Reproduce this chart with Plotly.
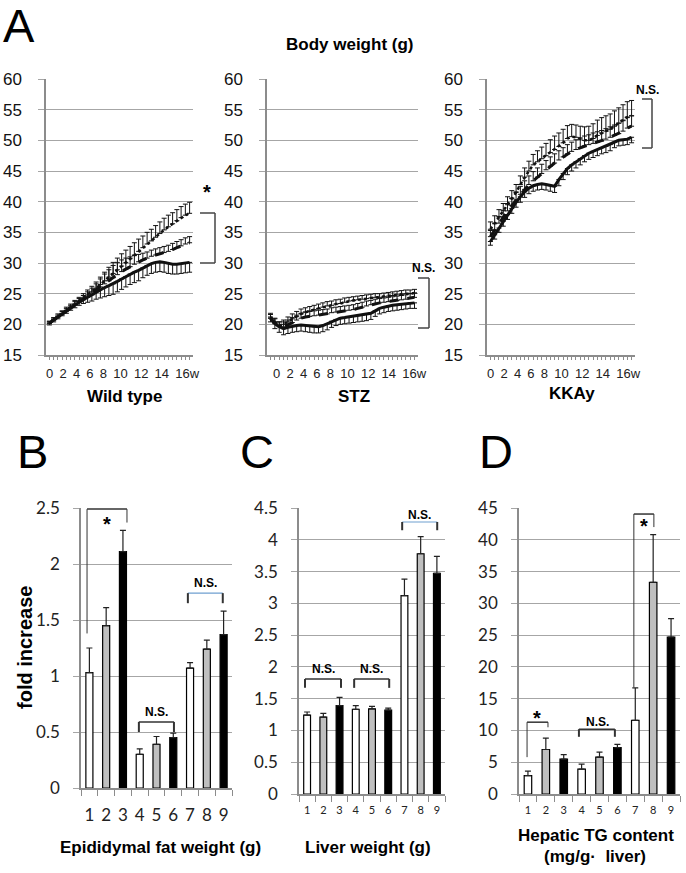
import plotly.graph_objects as go

W, H = 686, 873

# ---------------- DATA ----------------
weeks = [0, 0.5, 1, 1.5, 2, 2.5, 3, 3.5, 4, 4.5, 5, 5.5, 6, 6.5, 7, 7.5, 8, 8.5,
         9, 9.5, 10, 10.5, 11, 11.5, 12, 12.5, 13, 13.5, 14, 14.5, 15, 15.5, 16, 16.5]
week_ticktext = ["0", "2", "4", "6", "8", "10", "12", "14", "16w"]

wt_top = [20.2, 20.8, 21.3, 21.8, 22.3, 22.8, 23.3, 23.8, 24.3, 24.8, 25.3, 25.9, 26.5, 27.1, 27.7, 28.3, 28.9,
          29.5, 30.1, 30.7, 31.3, 31.9, 32.5, 33.1, 33.6, 34.2, 34.8, 35.4, 35.9, 36.4, 36.9, 37.4, 37.8, 38.1]
wt_top_err = [0.3, 0.3, 0.4, 0.4, 0.5, 0.5, 0.6, 0.6, 0.7, 0.8, 0.9, 1.0, 1.2, 1.4, 1.6, 1.8, 1.9,
              2.0, 2.0, 2.0, 2.0, 2.0, 1.9, 1.9, 1.9, 1.9, 1.9, 1.9, 1.9, 1.8, 1.8, 1.8, 1.8, 1.8]
wt_mid = [20.2, 20.7, 21.2, 21.7, 22.2, 22.7, 23.2, 23.7, 24.1, 24.6, 25.1, 25.6, 26.1, 26.6, 27.1, 27.6, 28.1,
          28.6, 29.0, 29.4, 29.8, 30.2, 30.5, 30.8, 31.1, 31.3, 31.5, 31.7, 31.9, 32.2, 32.5, 32.8, 33.1, 33.3]
wt_mid_err = [0.3, 0.3, 0.3, 0.4, 0.4, 0.4, 0.5, 0.5, 0.6, 0.7, 0.8, 1.0, 1.3, 1.6, 1.8, 2.0, 2.0,
              1.9, 1.8, 1.6, 1.4, 1.2, 1.1, 1.0, 1.0, 1.0, 1.0, 1.0, 1.0, 1.0, 1.0, 1.0, 1.0, 1.0]
wt_bot = [20.2, 20.7, 21.2, 21.7, 22.2, 22.7, 23.2, 23.6, 24.0, 24.4, 24.8, 25.3, 25.7, 26.0, 26.3, 26.6, 27.0,
          27.4, 27.8, 28.2, 28.5, 28.8, 29.2, 29.6, 29.9, 30.1, 30.2, 30.1, 29.9, 29.8, 29.8, 29.9, 30.0, 30.1]
wt_bot_err = [0.3, 0.3, 0.3, 0.3, 0.4, 0.4, 0.5, 0.5, 0.6, 0.8, 1.0, 1.2, 1.4, 1.5, 1.6, 1.7, 1.7,
              1.7, 1.7, 1.7, 1.7, 1.7, 1.6, 1.6, 1.6, 1.6, 1.6, 1.6, 1.6, 1.6, 1.6, 1.6, 1.6, 1.6]

stz_top = [21.2, 20.4, 19.8, 20.0, 20.4, 20.9, 21.3, 21.7, 22.0, 22.2, 22.4, 22.6, 22.8, 23.0, 23.1, 23.3, 23.4,
           23.6, 23.8, 23.9, 24.0, 24.1, 24.2, 24.3, 24.4, 24.4, 24.5, 24.6, 24.7, 24.8, 24.9, 25.0, 25.0, 25.1]
stz_top_err = [0.6, 0.6, 0.6, 0.7, 0.8, 0.8, 0.8, 0.8, 0.7, 0.7, 0.7, 0.7, 0.7, 0.7, 0.7, 0.7, 0.7,
               0.7, 0.6, 0.6, 0.6, 0.6, 0.6, 0.6, 0.6, 0.6, 0.6, 0.6, 0.6, 0.6, 0.6, 0.6, 0.6, 0.6]
stz_mid = [21.0, 20.2, 19.7, 19.6, 19.9, 20.3, 20.7, 21.0, 21.2, 21.3, 21.4, 21.5, 21.6, 21.7, 21.9, 22.0, 22.1,
           22.2, 22.3, 22.4, 22.6, 22.8, 23.0, 23.2, 23.4, 23.5, 23.6, 23.7, 23.8, 23.9, 24.0, 24.1, 24.3, 24.4]
stz_mid_err = [0.6, 0.7, 0.7, 0.8, 0.8, 0.8, 0.8, 0.8, 0.8, 0.8, 0.8, 0.8, 0.8, 0.8, 0.8, 0.8, 0.8,
               0.8, 0.8, 0.8, 0.8, 0.8, 0.8, 0.7, 0.7, 0.7, 0.7, 0.7, 0.7, 0.7, 0.7, 0.7, 0.7, 0.7]
stz_bot = [21.0, 20.1, 19.6, 19.3, 19.5, 19.7, 19.8, 19.9, 19.8, 19.7, 19.6, 19.6, 19.8, 20.1, 20.5, 20.8, 21.0,
           21.1, 21.2, 21.3, 21.4, 21.5, 21.6, 21.8, 22.2, 22.6, 22.8, 23.0, 23.1, 23.2, 23.3, 23.4, 23.5, 23.5]
stz_bot_err = [0.6, 0.8, 0.9, 1.0, 1.0, 1.0, 1.0, 1.0, 1.0, 1.0, 1.0, 1.0, 1.0, 1.0, 1.0, 1.0, 1.0,
               1.0, 1.0, 1.0, 1.0, 1.0, 1.0, 1.0, 0.9, 0.9, 0.9, 0.9, 0.9, 0.9, 0.9, 0.9, 0.9, 0.9]

kk_top = [35.5, 36.5, 37.5, 38.5, 39.5, 40.5, 41.5, 42.8, 44.0, 45.0, 46.0, 46.5, 47.0, 47.5, 48.0, 48.5, 49.0,
          49.6, 50.3, 50.6, 50.5, 50.2, 50.0, 50.0, 50.3, 50.8, 51.2, 51.5, 51.8, 52.3, 52.8, 53.3, 53.8, 54.0]
kk_top_err = [1.2, 1.2, 1.2, 1.2, 1.3, 1.3, 1.3, 1.4, 1.5, 1.6, 1.7, 1.8, 1.9, 2.0, 2.1, 2.2, 2.2,
              2.2, 2.1, 2.0, 2.0, 2.1, 2.2, 2.3, 2.4, 2.5, 2.5, 2.5, 2.5, 2.5, 2.5, 2.5, 2.5, 2.5]
kk_mid = [34.3, 35.4, 36.5, 37.5, 38.5, 39.4, 40.3, 41.2, 42.0, 42.8, 43.4, 44.0, 44.6, 45.2, 45.8, 46.3, 46.8,
          47.3, 47.8, 48.2, 48.5, 48.8, 49.1, 49.3, 49.5, 49.7, 49.9, 50.2, 50.5, 50.8, 51.1, 51.5, 52.0, 52.3]
kk_mid_err = [1.0, 1.0, 1.1, 1.1, 1.2, 1.2, 1.3, 1.3, 1.4, 1.4, 1.5, 1.5, 1.5, 1.5, 1.5, 1.5, 1.5,
              1.5, 1.5, 1.5, 1.6, 1.6, 1.6, 1.6, 1.7, 1.7, 1.7, 1.7, 1.7, 1.7, 1.7, 1.7, 1.7, 1.7]
kk_bot = [33.5, 34.6, 35.7, 36.8, 37.9, 38.9, 39.9, 40.8, 41.6, 42.2, 42.6, 42.8, 42.9, 42.8, 42.6, 42.5, 43.6,
          44.6, 45.4, 46.0, 46.5, 47.0, 47.5, 47.9, 48.2, 48.5, 48.8, 49.0, 49.3, 49.7, 50.0, 50.1, 50.2, 50.5]
kk_bot_err = [0.6, 0.7, 0.7, 0.8, 0.8, 0.8, 0.8, 0.9, 0.9, 0.9, 0.9, 0.9, 0.9, 0.9, 0.9, 1.0, 1.0,
              1.0, 1.0, 1.0, 1.0, 1.0, 1.0, 1.0, 1.0, 1.0, 1.0, 1.0, 1.0, 0.9, 0.9, 0.9, 0.9, 0.9]

groups = ["1", "2", "3", "4", "5", "6", "7", "8", "9"]
bar_colors = ["white", "#bfbfbf", "black", "white", "#bfbfbf", "black", "white", "#bfbfbf", "black"]

fat_vals = [1.03, 1.45, 2.11, 0.30, 0.39, 0.45, 1.07, 1.24, 1.37]
fat_err = [0.22, 0.16, 0.19, 0.05, 0.07, 0.04, 0.05, 0.08, 0.21]
liver_vals = [1.24, 1.21, 1.39, 1.33, 1.34, 1.32, 3.12, 3.78, 3.47]
liver_err = [0.05, 0.06, 0.13, 0.06, 0.04, 0.03, 0.26, 0.27, 0.27]
tg_vals = [2.9, 7.0, 5.5, 3.9, 5.8, 7.3, 11.6, 33.3, 24.7]
tg_err = [0.7, 1.8, 0.7, 0.8, 0.8, 0.5, 5.1, 7.5, 2.9]

# ---------------- LAYOUT HELPERS ----------------
def px_x(px):
    return px / W

def px_y(py):
    return 1 - py / H

FONT = "Arial, Liberation Sans, sans-serif"
FONT2 = "Lato, Carlito, Arial, sans-serif"
GRID = "#a6a6a6"
AX = "#8c8c8c"
INK = "#111111"

fig = go.Figure()

line_specs = [
    ("x", "y", wt_top, wt_top_err, wt_mid, wt_mid_err, wt_bot, wt_bot_err),
    ("x2", "y2", stz_top, stz_top_err, stz_mid, stz_mid_err, stz_bot, stz_bot_err),
    ("x3", "y3", kk_top, kk_top_err, kk_mid, kk_mid_err, kk_bot, kk_bot_err),
]
for xa, ya, top, tope, mid, mide, bot, bote in line_specs:
    zeros = [0] * len(weeks)
    fig.add_trace(go.Scatter(
        x=weeks, y=bot, xaxis=xa, yaxis=ya, mode="lines",
        line=dict(color=INK, width=3),
        error_y=dict(type="data", symmetric=False, array=zeros, arrayminus=bote,
                     color=INK, thickness=1, width=2.5)))
    fig.add_trace(go.Scatter(
        x=weeks, y=mid, xaxis=xa, yaxis=ya, mode="lines",
        line=dict(color=INK, width=3, dash="dash"),
        error_y=dict(type="data", symmetric=False, array=mide, arrayminus=zeros,
                     color=INK, thickness=1, width=2.5)))
    fig.add_trace(go.Scatter(
        x=weeks, y=top, xaxis=xa, yaxis=ya, mode="lines",
        line=dict(color=INK, width=2.5, dash="dot"),
        error_y=dict(type="data", symmetric=False, array=tope, arrayminus=zeros,
                     color=INK, thickness=1, width=2.5)))

bar_specs = [("x4", "y4", fat_vals, fat_err), ("x5", "y5", liver_vals, liver_err), ("x6", "y6", tg_vals, tg_err)]
for xa, ya, vals, err in bar_specs:
    fig.add_trace(go.Bar(
        x=groups, y=vals, xaxis=xa, yaxis=ya,
        marker=dict(color=bar_colors, line=dict(color="black", width=1.2)),
        error_y=dict(type="data", symmetric=False, array=err, arrayminus=[0] * 9,
                     color="#222", thickness=1.2, width=3)))

layout = dict(
    width=W, height=H, margin=dict(l=0, r=0, t=0, b=0, autoexpand=False),
    paper_bgcolor="white", plot_bgcolor="white", showlegend=False,
    bargap=0.58,
)

# A panels axes
A_x_px = [(46, 193), (267, 418), (487, 635)]
A_y_dom = [px_y(355), px_y(79)]
for i, (x0, x1) in enumerate(A_x_px):
    s = "" if i == 0 else str(i + 1)
    layout["xaxis" + s] = dict(
        domain=[px_x(x0), px_x(x1)], anchor="y" + s, range=[-0.4, 16.9],
        tickmode="linear", tick0=0, dtick=0.5, showticklabels=False, automargin=False,
        ticks="outside", ticklen=3, tickcolor=AX, showline=True, linecolor=AX, linewidth=1.5,
        showgrid=False, zeroline=False,
    )
    layout["yaxis" + s] = dict(
        domain=A_y_dom, anchor="x" + s, range=[15, 60], dtick=5, automargin=False,
        showgrid=True, gridcolor=GRID, gridwidth=1.3, zeroline=False,
        showline=True, linecolor=AX, linewidth=1.5, ticks="outside", ticklen=6, tickcolor=GRID,
        ticklabelstandoff=13, tickfont=dict(family=FONT, size=17, color="#111"),
    )

# Bar panels axes
bar_axes = [
    ("4", (81, 232), (788, 508), [0, 2.5], 0.5, 17, 11),
    ("5", (299, 445), (794, 508), [0, 4.5], 0.5, 11, 5),
    ("6", (519, 680), (794, 508), [0, 45], 5, 11, 5),
]
for s, (x0, x1), (yb, yt), rng, dt, xfs, xstand in bar_axes:
    layout["xaxis" + s] = dict(
        domain=[px_x(x0), px_x(x1)], anchor="y" + s, type="category",
        tickmode="array", tickvals=groups, tickangle=0, automargin=False,
        tickson="boundaries", ticks="outside", ticklen=6, tickcolor=AX,
        showline=True, linecolor=AX, linewidth=1.5, showgrid=False,
        ticklabelstandoff=xstand, tickfont=dict(family=FONT2, size=xfs, color="#222"),
    )
    layout["yaxis" + s] = dict(
        domain=[px_y(yb), px_y(yt)], anchor="x" + s, range=rng, dtick=dt, automargin=False,
        showgrid=True, gridcolor=GRID, gridwidth=1.3, zeroline=False,
        showline=True, linecolor=AX, linewidth=1.5, ticks="outside", ticklen=6, tickcolor=GRID,
        ticklabelstandoff=10, tickfont=dict(family=FONT2, size=17, color="#222"),
    )

fig.update_layout(**layout)

# ---------------- TEXT ----------------
def txt(x, y, s, size, bold=True, angle=0, family=FONT, xref="paper", yref="paper", color="black"):
    fig.add_annotation(x=x, y=y, xref=xref, yref=yref, text=("<b>%s</b>" % s) if bold else s,
                       showarrow=False, textangle=angle, xanchor="center", yanchor="middle",
                       font=dict(family=family, size=size, color=color))

# panel letters
for letter, cx, cy in [("A", 19, 25), ("B", 32, 451), ("C", 257, 451), ("D", 496, 451)]:
    txt(px_x(cx), px_y(cy), letter, 47, bold=False)

# week labels under each body-weight panel (typed as a single text row in the original)
week_row = " \u2009".join(week_ticktext)
for cx in [123, 350, 564]:
    txt(px_x(cx), px_y(373), week_row, 13, bold=False, color="#222")

txt(px_x(349), px_y(44), "Body weight (g)", 17)
txt(px_x(125), px_y(397), "Wild type", 17)
txt(px_x(354), px_y(397), "STZ", 17)
txt(px_x(572), px_y(394), "KKAy", 17)
txt(px_x(160), px_y(847), "Epididymal fat weight (g)", 17)
txt(px_x(368), px_y(847), "Liver weight (g)", 17)
txt(px_x(596), px_y(835), "Hepatic TG content", 17)
txt(px_x(595), px_y(856), "(mg/g·  liver)", 17)
txt(px_x(25), px_y(648), "fold increase", 20, angle=-90)

# ---------------- BRACKETS ----------------
def seg(x0, y0, x1, y1, xref, yref, color="#333", width=1.5):
    fig.add_shape(type="line", x0=x0, y0=y0, x1=x1, y1=y1, xref=xref, yref=yref,
                  line=dict(color=color, width=width))

# Panel A side brackets (pixel positions)
for (xl, xr, yt, yb, label, lx, ly, lsize) in [
    (200, 215, 213, 263, "*", 207, 192, 20),
    (418, 429, 278, 328, "N.S.", 423, 268, 12),
    (642, 652, 99, 148, "N.S.", 647, 90, 12),
]:
    seg(px_x(xl), px_y(yt), px_x(xr), px_y(yt), "paper", "paper", color="#444")
    seg(px_x(xr), px_y(yt), px_x(xr), px_y(yb), "paper", "paper", color="#444")
    seg(px_x(xl), px_y(yb), px_x(xr), px_y(yb), "paper", "paper", color="#444")
    txt(px_x(lx), px_y(ly), label, lsize)

# bar-panel brackets (data coordinates: category index, value)
def bracket(xa, ya, x0, x1, ytop, yl, yr, label, tx, ty, top_color="#333", lsize=12):
    seg(x0, ytop, x1, ytop, xa, ya, color=top_color, width=1.2 if top_color != "#333" else 1.5)
    seg(x0, ytop, x0, yl, xa, ya, width=2 if label == "N.S." else 1)
    seg(x1, ytop, x1, yr, xa, ya, width=2 if label == "N.S." else 1)
    fig.add_annotation(x=tx, y=ty, xref=xa, yref=ya, text="<b>%s</b>" % label, showarrow=False,
                       xanchor="center", yanchor="middle", font=dict(family=FONT, size=lsize, color="black"))

bracket("x4", "y4", -0.14, 2.24, 2.49, 1.38, 2.37, "*", 1.05, 2.36, lsize=20)
bracket("x4", "y4", 2.95, 5.04, 0.59, 0.50, 0.50, "N.S.", 4.0, 0.68)
bracket("x4", "y4", 5.87, 7.95, 1.74, 1.65, 1.65, "N.S.", 6.9, 1.83, top_color="#6f9fd0")

bracket("x5", "y5", -0.13, 2.09, 1.81, 1.67, 1.67, "N.S.", 0.98, 1.97)
bracket("x5", "y5", 2.90, 5.06, 1.81, 1.67, 1.67, "N.S.", 3.98, 1.97)
bracket("x5", "y5", 5.86, 8.02, 4.28, 4.15, 4.15, "N.S.", 6.94, 4.39, top_color="#6f9fd0")

bracket("x6", "y6", -0.05, 1.12, 11.3, 5.8, 10.5, "*", 0.5, 12.0, lsize=20)
bracket("x6", "y6", 2.85, 4.86, 10.2, 9.0, 9.0, "N.S.", 3.86, 11.3)
bracket("x6", "y6", 5.92, 7.04, 44.05, 16.8, 42.0, "*", 6.48, 42.2, lsize=20)

fig.write_html("out.html", config={"displayModeBar": False},
               post_script="document.body.style.margin='0';document.body.style.overflow='hidden';")
